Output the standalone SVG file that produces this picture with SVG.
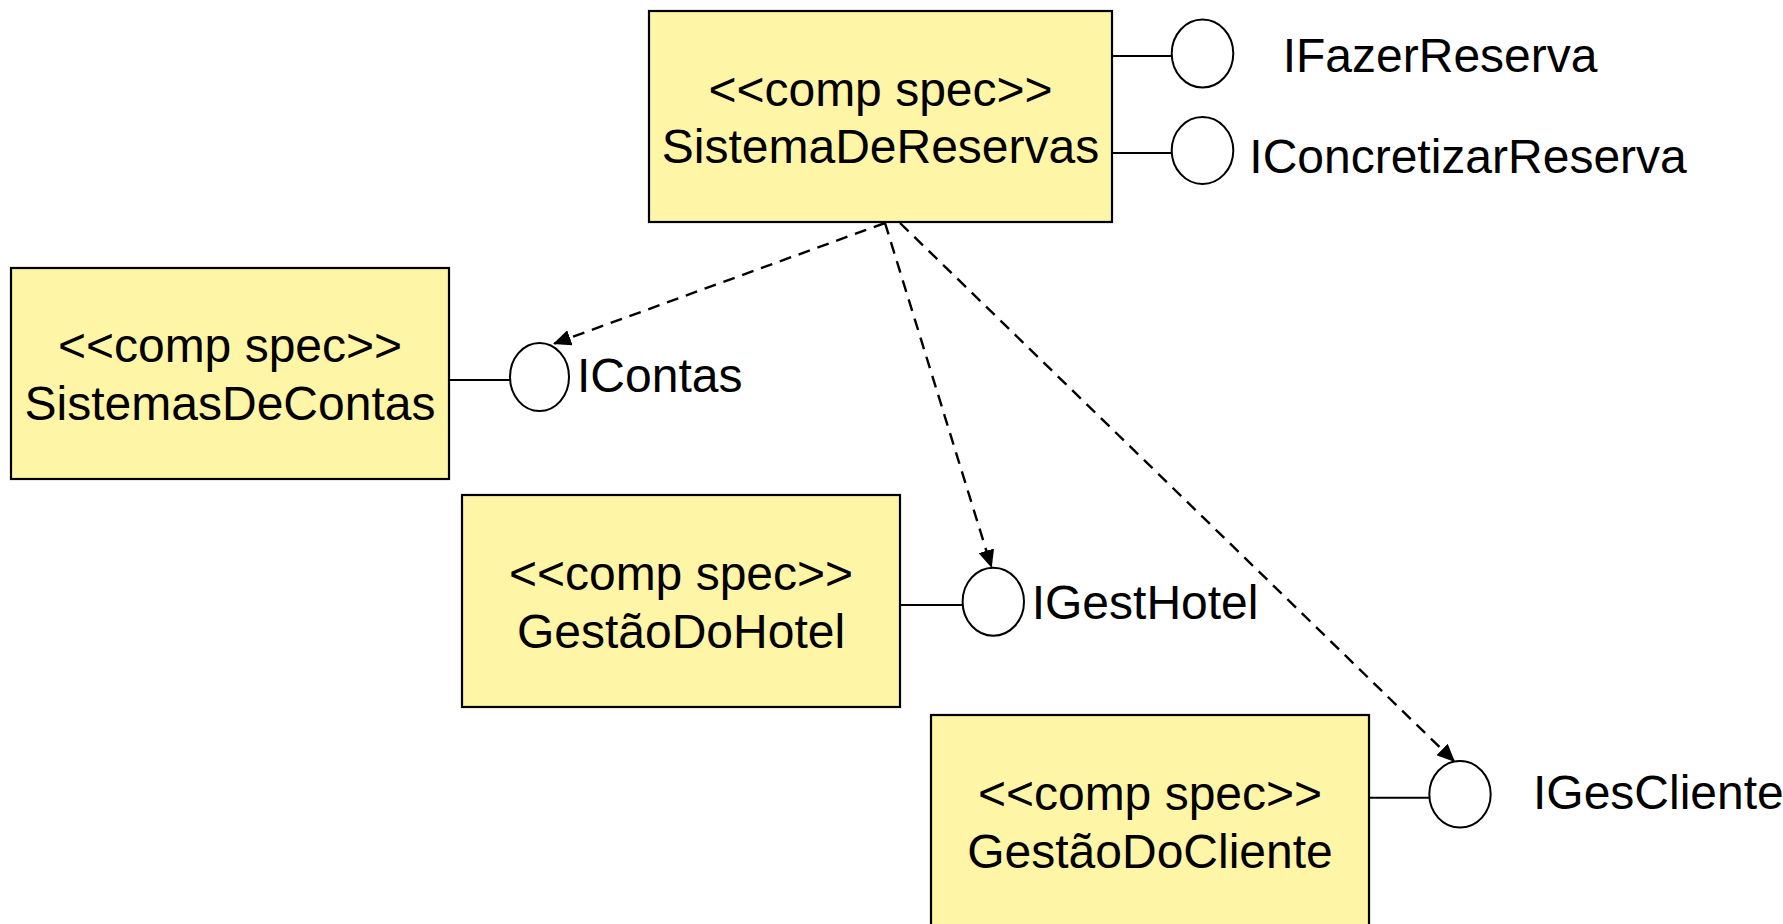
<svg xmlns="http://www.w3.org/2000/svg" width="1783" height="924" viewBox="0 0 1783 924">
<defs>
<style>
.box{fill:#FFF5A6;stroke:#000;stroke-width:2.2}
.lbl{font-family:"Liberation Sans",Arial,sans-serif;font-size:48px;fill:#000}
.ctr{text-anchor:middle}
.iface{fill:#fff;stroke:#000;stroke-width:2}
.stem{stroke:#000;stroke-width:2;fill:none}
.dep{stroke:#000;stroke-width:2.4;fill:none;stroke-dasharray:12 8}
</style>
<marker id="ah" markerUnits="userSpaceOnUse" markerWidth="20" markerHeight="16" refX="18" refY="8" orient="auto">
<path d="M0,0 L18,8 L0,16 z" fill="#000"/>
</marker>
</defs>
<rect width="1783" height="924" fill="#fff"/>

<g id="SistemaDeReservas">
<rect class="box" x="649" y="11" width="463" height="211"/>
<text class="lbl ctr" x="880.5" y="105.5">&lt;&lt;comp spec&gt;&gt;</text>
<text class="lbl ctr" x="880.5" y="162.7">SistemaDeReservas</text>
</g>

<g id="IFazerReserva">
<line class="stem" x1="1112" y1="56" x2="1172" y2="56"/>
<ellipse class="iface" cx="1202.5" cy="53.5" rx="30.8" ry="34"/>
<text class="lbl" x="1282.7" y="71.7">IFazerReserva</text>
</g>

<g id="IConcretizarReserva">
<line class="stem" x1="1112" y1="153" x2="1172" y2="153"/>
<ellipse class="iface" cx="1202.5" cy="150.5" rx="30.8" ry="33.5"/>
<text class="lbl" x="1249.3" y="172.7">IConcretizarReserva</text>
</g>

<g id="SistemasDeContas">
<rect class="box" x="11" y="268" width="438" height="211"/>
<text class="lbl ctr" x="230" y="362">&lt;&lt;comp spec&gt;&gt;</text>
<text class="lbl ctr" x="230" y="420">SistemasDeContas</text>
</g>

<g id="IContas">
<line class="stem" x1="449" y1="380" x2="510" y2="380"/>
<ellipse class="iface" cx="539.5" cy="377" rx="29.5" ry="34"/>
<text class="lbl" x="577" y="392">IContas</text>
</g>

<g id="GestaoDoHotel">
<rect class="box" x="462" y="495" width="438" height="212"/>
<text class="lbl ctr" x="681" y="590">&lt;&lt;comp spec&gt;&gt;</text>
<text class="lbl ctr" x="681" y="648">GestãoDoHotel</text>
</g>

<g id="IGestHotel">
<line class="stem" x1="900" y1="605" x2="963" y2="605"/>
<ellipse class="iface" cx="993.3" cy="601.7" rx="30.7" ry="34"/>
<text class="lbl" x="1031.7" y="619">IGestHotel</text>
</g>

<g id="GestaoDoCliente">
<rect class="box" x="931" y="715" width="438" height="211"/>
<text class="lbl ctr" x="1150" y="809.5">&lt;&lt;comp spec&gt;&gt;</text>
<text class="lbl ctr" x="1150" y="867.5">GestãoDoCliente</text>
</g>

<g id="IGesCliente">
<line class="stem" x1="1369" y1="797.7" x2="1429.3" y2="797.7"/>
<ellipse class="iface" cx="1460" cy="794.3" rx="30.7" ry="33.3"/>
<text class="lbl" x="1533" y="809">IGesCliente</text>
</g>

<g id="connectors">
<line class="dep" x1="885" y1="223" x2="553" y2="344" marker-end="url(#ah)"/>
<line class="dep" x1="885" y1="223" x2="991.7" y2="568" marker-end="url(#ah)"/>
<line class="dep" x1="900" y1="223" x2="1455" y2="762" marker-end="url(#ah)"/>
</g>
</svg>
